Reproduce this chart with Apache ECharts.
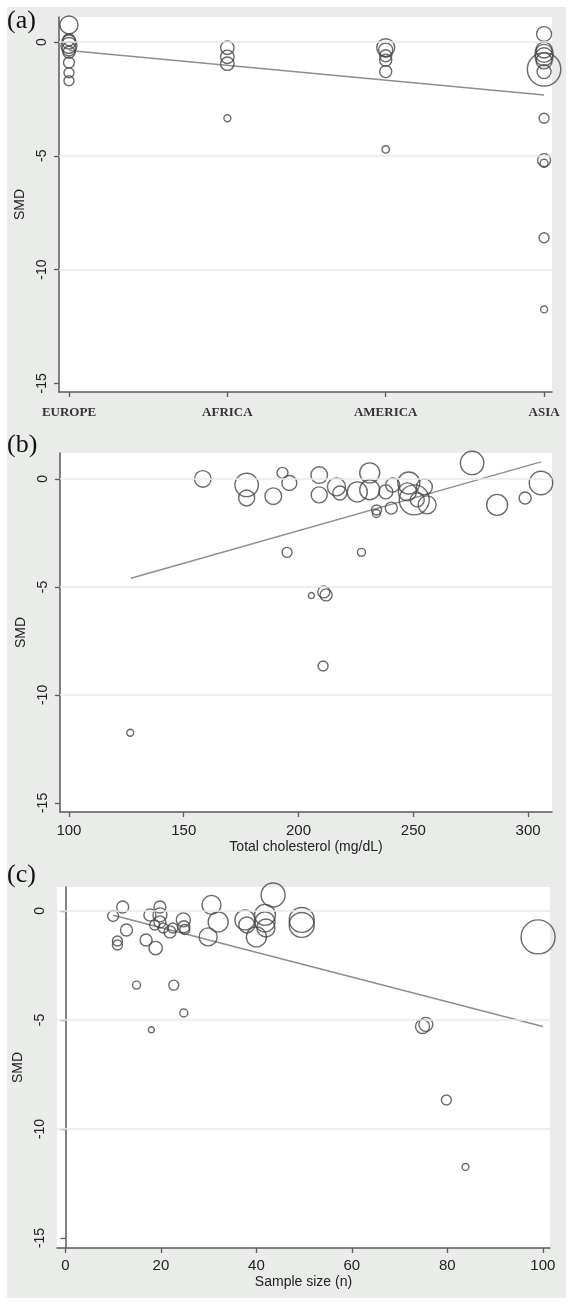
<!DOCTYPE html>
<html><head><meta charset="utf-8">
<script src="https://cdn.jsdelivr.net/npm/echarts@6/dist/echarts.min.js"></script>
<style>
html,body{margin:0;padding:0;background:#fff;}
#bg{position:absolute;left:7px;top:7px;width:559px;height:1291px;background:#eaecea;}
#chart{position:absolute;left:0;top:0;width:574px;height:1306px;}
</style></head><body>
<div id="bg"></div><div id="chart"></div>
<script>
// ---------- Panel (a): SMD by region ----------
const regions = ['EUROPE', 'AFRICA', 'AMERICA', 'ASIA'];
const regionIdx    = [1, 1, 1, 1, 1, 1, 1, 1, 1,   2, 2, 2, 2,   3, 3, 3, 3, 3, 3,   4, 4, 4, 4, 4, 4, 4, 4, 4, 4, 4, 4];
const regionSMD    = [0.75, 0.1, 0, -0.15, -0.3, -0.45, -0.9, -1.35, -1.7,
                      -0.25, -0.65, -0.95, -3.35,
                      -0.25, -0.35, -0.6, -0.8, -1.3, -4.72,
                      0.35, -0.35, -0.5, -0.65, -0.83, -1.2, -1.3, -3.35, -5.19, -5.33, -8.6, -11.75];
const regionWeight = [81, 36, 49, 64, 49, 36, 30, 25, 25,
                      45, 45, 45, 12,
                      81, 49, 36, 36, 36, 14,
                      56, 64, 81, 81, 64, 280, 49, 25, 42, 16, 25, 12];
const regionFitX = [1, 4];
const regionFitY = [-0.37, -2.33];

// ---------- Panel (b): SMD by total cholesterol ----------
const cholX = [158.3, 177.4, 177.4, 189, 193, 196, 209, 209, 216.5, 218, 225.6, 231, 231, 238, 241, 240.4, 234, 233.9,
               248, 250.4, 247.4, 254.8, 251.7, 256, 275.6, 286.5, 298.7, 305.6,
               195, 227.4, 211, 212, 205.6, 210.7, 126.7];
const cholSMD = [0, -0.28, -0.88, -0.8, 0.28, -0.19, 0.18, -0.74, -0.37, -0.65, -0.6, 0.28, -0.5, -0.6, -0.28, -1.35, -1.44, -1.6,
                 -0.19, -0.97, -0.6, -0.37, -0.97, -1.2, 0.74, -1.2, -0.88, -0.19,
                 -3.4, -3.4, -5.23, -5.37, -5.4, -8.66, -11.75];
const cholWeight = [69, 137, 64, 69, 30, 56, 69, 64, 81, 49, 100, 100, 100, 49, 49, 36, 25, 16,
                    121, 225, 81, 64, 49, 81, 137, 110, 36, 137,
                    25, 16, 36, 36, 9, 25, 12];
const cholFitX = [127, 305.6];
const cholFitY = [-4.6, 0.79];

// ---------- Panel (c): SMD by sample size ----------
const sizeX = [10, 12, 12.8, 10.9, 10.9, 16.9, 18.9, 17.7, 19.8, 19.8, 19.8, 18.7, 20.5, 21.9, 22.5, 24.7, 24.8, 25,
               30.6, 32, 29.9, 37.6, 38, 40, 41.8, 41.8, 42, 43.5, 49.5, 49.5, 99,
               14.9, 22.7, 24.8, 18, 74.8, 75.5, 79.8, 83.8];
const sizeSMD = [-0.23, 0.18, -0.87, -1.38, -1.56, -1.33, -1.7, -0.18, 0.18, -0.18, -0.5, -0.64, -0.78, -0.96, -0.78, -0.41, -0.72, -0.85,
                 0.28, -0.5, -1.19, -0.41, -0.64, -1.19, -0.18, -0.5, -0.78, 0.73, -0.41, -0.64, -1.19,
                 -3.4, -3.4, -4.68, -5.45, -5.3, -5.2, -8.67, -11.74];
const sizeWeight = [30, 36, 36, 25, 25, 36, 45, 36, 36, 49, 36, 25, 25, 36, 25, 49, 36, 25,
                    90, 100, 81, 100, 64, 100, 110, 100, 81, 144, 156, 156, 289,
                    16, 25, 16, 9, 49, 49, 25, 12];
const sizeFitX = [10, 100];
const sizeFitY = [-0.2, -5.3];

const yTicks = [0, -5, -10, -15];
const gridTicks = [0, -5, -10];
const cholTicks = [100, 150, 200, 250, 300];
const sizeTicks = [0, 20, 40, 60, 80, 100];
const panelLabels = ['(a)', '(b)', '(c)'];
const yTitle = 'SMD';
const cholTitle = 'Total cholesterol (mg/dL)';
const sizeTitle = 'Sample size (n)';

const zip3 = (xs, ys, ws) => xs.map((x, i) => [x, ys[i], ws[i]]);
const zip2 = (xs, ys) => xs.map((x, i) => [x, ys[i]]);

const axisColor = '#5a5a5a';
const sans = "'Liberation Sans', Arial, sans-serif";
const serif = "'Liberation Serif', 'Times New Roman', serif";

function yAxisDef(gi, min, max) {
  return {
    type: 'value', gridIndex: gi, min: min, max: max,
    name: yTitle, nameLocation: 'middle', nameGap: 24,
    nameTextStyle: { fontFamily: sans, fontSize: 14, color: '#222' },
    axisLine: { show: true, lineStyle: { color: axisColor, width: 1.5 } },
    axisTick: { show: true, length: 5, customValues: yTicks, lineStyle: { color: axisColor, width: 1.3 } },
    axisLabel: { customValues: yTicks, rotate: 90, margin: 10, fontFamily: sans, fontSize: 14, color: '#222' },
    splitLine: { show: false }
  };
}
function xAxisDef(gi, min, max, ticks, opts) {
  return Object.assign({
    type: 'value', gridIndex: gi, min: min, max: max,
    axisLine: { show: true, onZero: false, lineStyle: { color: axisColor, width: 1.5 } },
    axisTick: { show: true, length: 5, customValues: ticks, lineStyle: { color: axisColor, width: 1.3 } },
    splitLine: { show: false }
  }, opts);
}
const circleStyle = { color: 'rgba(0,0,0,0)', borderColor: '#454545', borderWidth: 1.4 };
function scatterDef(gi, data) {
  return {
    type: 'scatter', xAxisIndex: gi, yAxisIndex: gi, data: data, z: 3,
    symbol: 'circle', symbolSize: d => 2 * Math.sqrt(d[2]),
    itemStyle: circleStyle, silent: true
  };
}
function fitDef(gi, data) {
  return {
    type: 'line', xAxisIndex: gi, yAxisIndex: gi, data: data, z: 2,
    showSymbol: false, symbol: 'none', silent: true,
    lineStyle: { color: '#8e8e8e', width: 1.5 },
    markLine: {
      silent: true, symbol: 'none', label: { show: false },
      lineStyle: { color: '#e9e9e9', width: 1.5, type: 'solid' },
      data: gridTicks.map(v => ({ yAxis: v }))
    }
  };
}

const chart = echarts.init(document.getElementById('chart'), null, { renderer: 'canvas' });
chart.setOption({
  backgroundColor: 'transparent',
  animation: false,
  title: panelLabels.map((t, i) => ({
    text: t, left: 7, top: [8, 432, 862][i], padding: 0,
    textStyle: { fontFamily: serif, fontSize: 26, fontWeight: 'normal', color: '#111' }
  })),
  grid: [
    { left: 59, top: 17, width: 493, height: 375, show: true, backgroundColor: '#fff', borderWidth: 0 },
    { left: 60, top: 453, width: 492, height: 359, show: true, backgroundColor: '#fff', borderWidth: 0 },
    { left: 57, top: 887, width: 493, height: 361, show: true, backgroundColor: '#fff', borderWidth: 0 }
  ],
  xAxis: [
    xAxisDef(0, 0.937, 4.05, [1, 2, 3, 4], {
      axisLabel: { customValues: [1, 2, 3, 4], formatter: v => regions[v - 1], margin: 14,
        fontFamily: serif, fontSize: 13, fontWeight: 'bold', color: '#333' }
    }),
    xAxisDef(1, 96.1, 310.4, cholTicks, {
      name: cholTitle, nameLocation: 'middle', nameGap: 28,
      nameTextStyle: { fontFamily: sans, fontSize: 14, color: '#222' },
      axisLabel: { customValues: cholTicks, margin: 11, fontFamily: sans, fontSize: 15, color: '#222' }
    }),
    xAxisDef(2, -1.76, 101.5, sizeTicks, {
      name: sizeTitle, nameLocation: 'middle', nameGap: 27,
      nameTextStyle: { fontFamily: sans, fontSize: 14, color: '#222' },
      axisLabel: { customValues: sizeTicks, margin: 10, fontFamily: sans, fontSize: 15, color: '#222' }
    })
  ],
  yAxis: [
    yAxisDef(0, -15.38, 1.10),
    yAxisDef(1, -15.42, 1.2),
    yAxisDef(2, -15.46, 1.1)
  ],
  series: [
    fitDef(0, zip2(regionFitX, regionFitY)),
    scatterDef(0, zip3(regionIdx, regionSMD, regionWeight)),
    fitDef(1, zip2(cholFitX, cholFitY)),
    scatterDef(1, zip3(cholX, cholSMD, cholWeight)),
    fitDef(2, zip2(sizeFitX, sizeFitY)),
    scatterDef(2, zip3(sizeX, sizeSMD, sizeWeight))
  ]
});
</script>
</body></html>
